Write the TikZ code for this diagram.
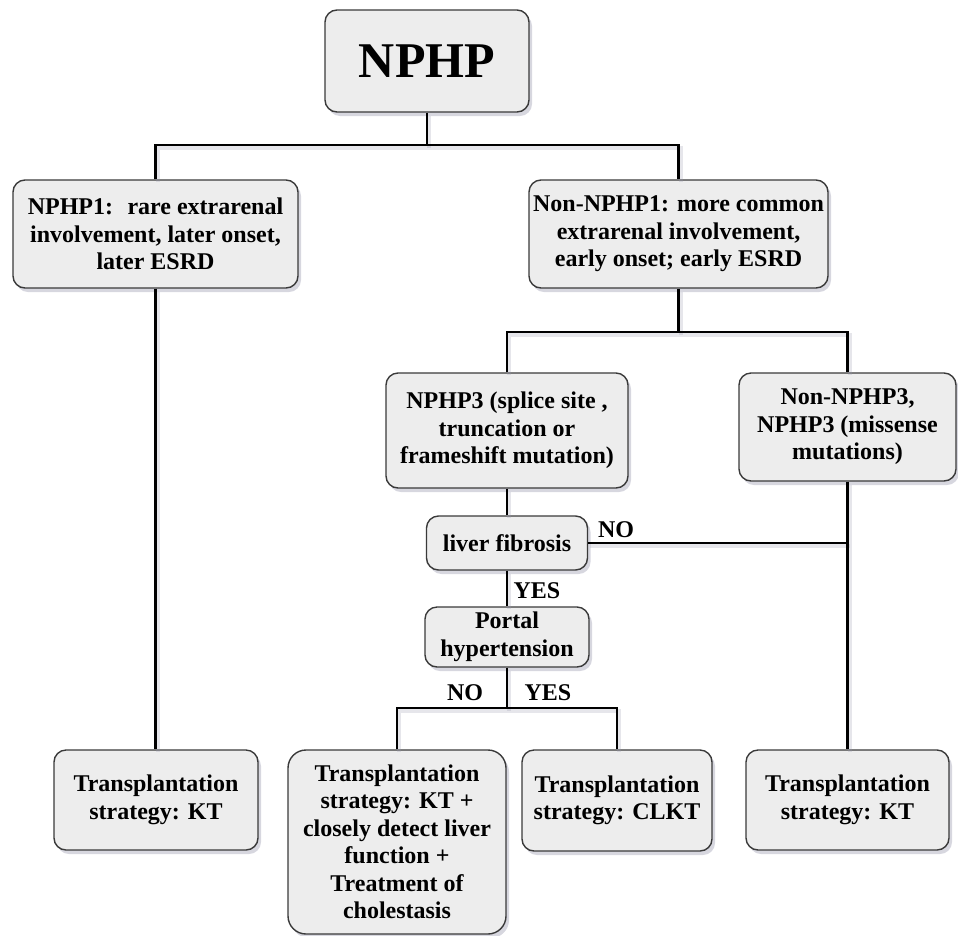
\documentclass[tikz,border=0pt]{standalone}
\usepackage{fontspec}
\setmainfont{Liberation Serif}
\usetikzlibrary{shadows}
\definecolor{boxfill}{HTML}{EDEDED}
\definecolor{boxline}{HTML}{3A3A3A}
\definecolor{shadowc}{HTML}{9A9AB0}
\tikzset{
  box/.style={draw=boxline, line width=1.4pt, fill=boxfill, rounded corners=12pt,
    align=center, inner sep=0pt,
    font=\bfseries\fontsize{24}{27.5}\selectfont,
    drop shadow={shadow xshift=3pt, shadow yshift=-4pt, opacity=0.4, fill=shadowc}},
  conn/.style={draw=black, line width=2.8pt,
    preaction={draw=shadowc, opacity=0.25, line width=4pt, transform canvas={shift={(2pt,-3pt)}}}},
  lbl/.style={font=\bfseries\fontsize{24}{27.5}\selectfont, inner sep=0pt}
}
\begin{document}
\begin{tikzpicture}[x=1pt,y=-1pt]
\useasboundingbox (0,0) rectangle (958,935);
% boxes
\node[box, minimum width=204pt, minimum height=102pt, font=\bfseries\fontsize{50}{56}\selectfont] (top) at (427,61) {NPHP};
\node[box, minimum width=285pt, minimum height=108pt] (n1) at (155.5,234)
  {NPHP1:\hspace{0.6em}rare extrarenal\\involvement, later onset,\\later ESRD};
\node[box, minimum width=299pt, minimum height=108pt] (nn1) at (678.5,234)
  {Non-NPHP1: more common\\extrarenal involvement,\\early onset; early ESRD};
\node[box, minimum width=242pt, minimum height=115pt] (n3) at (507,430.5)
  {NPHP3 (splice site ,\\truncation or\\frameshift mutation)};
\node[box, minimum width=217pt, minimum height=108pt] (nn3) at (847.5,427)
  {Non-NPHP3,\\NPHP3 (missense\\mutations)};
\node[box, minimum width=161pt, minimum height=54pt] (lf) at (507,543) {liver fibrosis};
\node[box, minimum width=164pt, minimum height=60pt] (ph) at (507,637) {Portal\\hypertension};
\node[box, minimum width=204pt, minimum height=100pt] (kt1) at (156,800)
  {Transplantation\\strategy: KT};
\node[box, rounded corners=18pt, minimum width=218pt, minimum height=184pt] (big) at (397,842)
  {Transplantation\\strategy: KT +\\closely detect liver\\function +\\Treatment of\\cholestasis};
\node[box, minimum width=190pt, minimum height=101pt] (clkt) at (617,800.5)
  {Transplantation\\strategy: CLKT};
\node[box, minimum width=203pt, minimum height=100pt] (kt3) at (847.5,800)
  {Transplantation\\strategy: KT};
% junctions
\coordinate (j1) at (427,145);
\coordinate (j2) at (678.5,332);
\coordinate (j4) at (507,708);
\coordinate (j3) at (nn3.south |- lf.east);
% connectors
\draw[conn] (top.south) -- (j1);
\draw[conn] (n1.north) |- (j1) -| (nn1.north);
\draw[conn] (n1.south) -- (n1.south |- kt1.north);
\draw[conn] (nn1.south) -- (j2);
\draw[conn] (n3.north) |- (j2) -| (nn3.north);
\draw[conn] (n3.south) -- (lf.north);
\draw[conn] (lf.east) -- (j3);
\draw[conn] (nn3.south) -- (kt3.north);
\draw[conn] (lf.south) -- (ph.north);
\draw[conn] (ph.south) -- (j4);
\draw[conn] (big.north) |- (j4) -| (clkt.north);
% labels
\node[lbl] (lno1) at (616,530) {NO};
\node[lbl] (lyes1) at (537,591) {YES};
\node[lbl] (lno2) at (465,693) {NO};
\node[lbl] (lyes2) at (548,693) {YES};
\end{tikzpicture}
\end{document}
